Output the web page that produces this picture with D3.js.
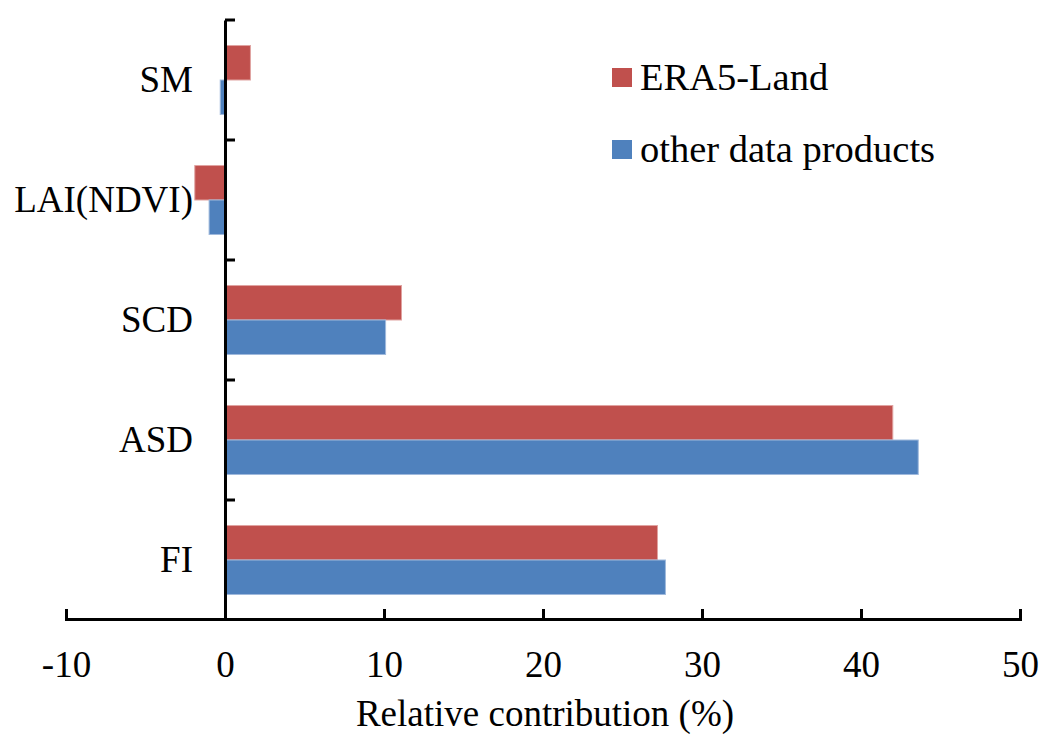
<!DOCTYPE html>
<html>
<head>
<meta charset="utf-8">
<script src="https://cdn.jsdelivr.net/npm/d3@7"></script>
<style>
  body { margin: 0; background: #fff; }
  text { font-family: "Liberation Serif", "Times New Roman", serif; fill: #000; }
</style>
</head>
<body>
<div id="vis"></div>
<script>
// categories top to bottom
const categories = ["SM", "LAI(NDVI)", "SCD", "ASD", "FI"]
const seriesNames = ["ERA5-Land", "other data products"]
const era5Land = [1.6, -1.9, 11.1, 42.0, 27.2]
const otherProducts = [-0.3, -1.0, 10.1, 43.6, 27.7]
const xTicks = [-10, 0, 10, 20, 30, 40, 50]

const width = 1040
const height = 734

const svg = d3.select("#vis")
    .append("svg")
    .attr("width", width)
    .attr("height", height)

const colors = d3.scaleOrdinal()
    .domain(seriesNames)
    .range(["#c0504d", "#4f81bd"])
const strokes = d3.scaleOrdinal()
    .domain(seriesNames)
    .range(["#e0a3a1", "#9fb9dc"])

//scales
const x = d3.scaleLinear()
    .domain([-10, 50])
    .range([66, 1020])

const y = d3.scaleBand()
    .domain(categories)
    .range([20, 620])

const ySub = d3.scaleBand()
    .domain(seriesNames)
    .range([0, y.bandwidth()])
    .paddingOuter(0.74)

const rows = categories.map((c, i) => ({
    cat: c,
    values: [
        { name: seriesNames[0], value: era5Land[i] },
        { name: seriesNames[1], value: otherProducts[i] }
    ]
}))

//bars
const groups = svg.selectAll(".row")
    .data(rows)
    .enter()
    .append("g")
    .attr("class", "row")
    .attr("transform", d => `translate(0, ${y(d.cat)})`)

groups.selectAll("rect")
    .data(d => d.values)
    .enter()
    .append("rect")
    .attr("x", d => x(Math.min(0, d.value)))
    .attr("y", d => ySub(d.name))
    .attr("width", d => Math.abs(x(d.value) - x(0)))
    .attr("height", ySub.bandwidth())
    .attr("fill", d => colors(d.name))
    .attr("stroke", d => strokes(d.name))
    .attr("stroke-width", 1)

//x axis, ticks pointing up
const xAxis = svg.append("g")
    .attr("transform", `translate(0, 619)`)
    .call(d3.axisBottom(x).tickValues(xTicks).tickFormat(d => String(d)).tickSize(-10).tickSizeOuter(-10))

xAxis.select(".domain").attr("stroke", "#000").attr("stroke-width", 3).attr("fill", "none")
xAxis.selectAll(".tick line").attr("stroke", "#000").attr("stroke-width", 3)
xAxis.selectAll(".tick text")
    .attr("y", 58)
    .attr("dy", 0)
    .style("font-size", "37px")
    .style("font-family", "'Liberation Serif', serif")

//y axis at zero
const yAxis = svg.append("g")
    .attr("transform", `translate(${x(0)}, 0)`)
    .call(d3.axisLeft(y).tickSize(0).tickSizeOuter(0).tickPadding(32))

yAxis.select(".domain").attr("stroke", "#000").attr("stroke-width", 3)
yAxis.selectAll(".tick text")
    .style("font-size", "37px")
    .style("font-family", "'Liberation Serif', serif")

//tick marks at band boundaries, pointing right
yAxis.selectAll(".bound")
    .data(categories)
    .enter()
    .append("line")
    .attr("class", "bound")
    .attr("x1", 0)
    .attr("x2", 10)
    .attr("y1", d => y(d))
    .attr("y2", d => y(d))
    .attr("stroke", "#000")
    .attr("stroke-width", 3)

//axis title
svg.append("text")
    .attr("x", 545)
    .attr("y", 726)
    .attr("text-anchor", "middle")
    .style("font-size", "37px")
    .text("Relative contribution (%)")

//legend
const legend = svg.selectAll(".legend")
    .data(seriesNames)
    .enter()
    .append("g")
    .attr("class", "legend")
    .attr("transform", (d, i) => `translate(612, ${68 + i * 72})`)

legend.append("rect")
    .attr("width", 20)
    .attr("height", 19)
    .attr("fill", d => colors(d))

legend.append("text")
    .attr("x", 28)
    .attr("y", 22)
    .style("font-size", "38.5px")
    .text(d => d)
</script>
</body>
</html>
